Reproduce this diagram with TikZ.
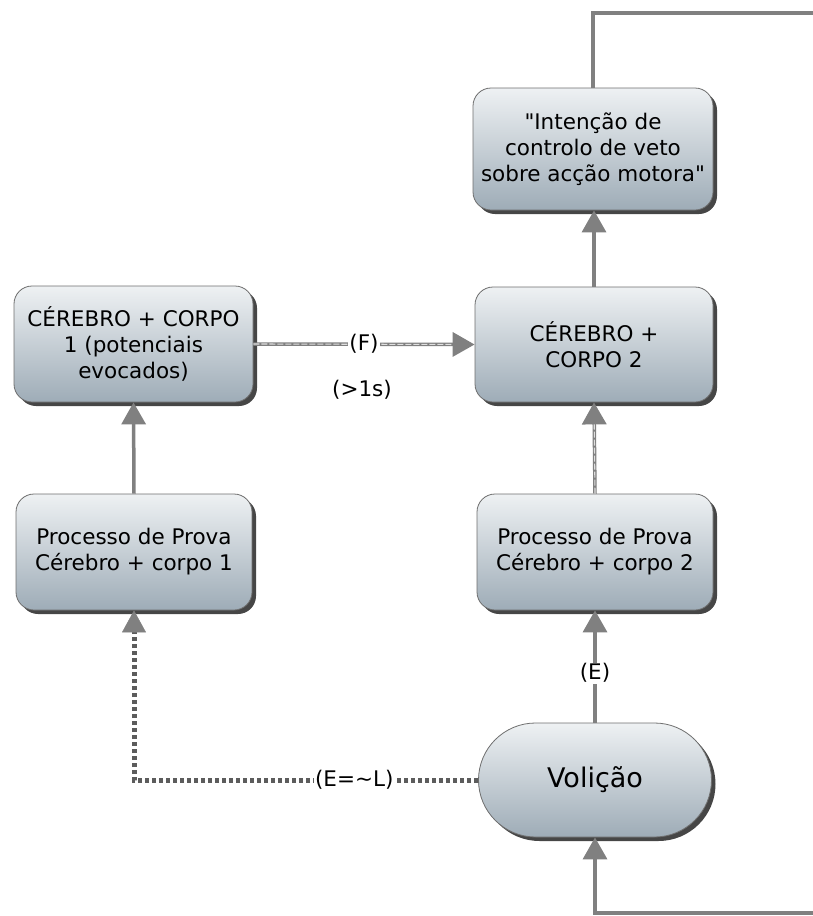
\documentclass[tikz,border=0pt]{standalone}
\usepackage{fontspec}
\setmainfont{DejaVu Sans}
\usetikzlibrary{arrows.meta,shadows}
\definecolor{boxtop}{HTML}{EEF1F3}
\definecolor{boxbot}{HTML}{9EACB7}
\definecolor{boxline}{HTML}{6E6E6E}
\definecolor{conn}{HTML}{808080}
\definecolor{dotc}{HTML}{5C5C5C}
\begin{document}
\begin{tikzpicture}[x=1pt,y=-1pt,
  box/.style={rectangle, rounded corners=18pt, draw=boxline, line width=0.8pt,
    top color=boxtop, bottom color=boxbot, minimum width=238pt, minimum height=116pt,
    align=center, inner sep=1pt, font=\fontsize{21.5}{26}\selectfont,
    drop shadow={shadow xshift=4pt, shadow yshift=-4pt, fill=black!85, opacity=0.85}},
  arr/.style={draw=conn, line width=3.5pt, -{Triangle[width=24pt,length=22pt,color=conn]}},
  innerdash/.style={postaction={draw=white!75!conn, line width=1.1pt, dash pattern=on 6pt off 2pt, -, shorten >=22pt}},
  dotline/.style={draw=dotc, line width=5pt, dash pattern=on 4.5pt off 2.5pt, -{Triangle[width=24pt,length=22pt,color=conn,line width=0.5pt]}},
  lbl/.style={fill=white, inner sep=1pt, font=\fontsize{21.5}{24}\selectfont}
]
\useasboundingbox (0,0) rectangle (813,916);
\clip (0,0) rectangle (813,916);

\node[box, minimum width=240pt, minimum height=122pt] (int) at (593,149) {\textquotedbl Intenção de\\controlo de veto\\sobre acção motora\textquotedbl};
\node[box, minimum width=239pt] (c1) at (133.5,344) {CÉREBRO + CORPO\\1 (potenciais\\evocados)};
\node[box, minimum height=115pt] (c2) at (594,344.5) {CÉREBRO +\\CORPO 2};
\node[box, minimum width=236pt] (p1) at (134,552) {Processo de Prova\\Cérebro + corpo 1};
\node[box, minimum width=236pt] (p2) at (595,552) {Processo de Prova\\Cérebro + corpo 2};
\node[box, rounded corners=57pt, minimum width=233pt, minimum height=114pt,
  font=\fontsize{27}{30}\selectfont] (vol) at (595,780) {Volição};

\coordinate (tr) at (840,13);
\coordinate (br) at (840,913);

% feedback loop
\draw[arr] (int.north) |- (tr) -- (br) -| (vol.south);

% vertical connectors
\draw[arr] (p1.north) -- (c1.south);
\draw[arr] (c2.north) -- (c2.north |- int.south);
\draw[arr, innerdash] (p2.north) -- (c2.south);
\draw[arr] (vol.north) -- (p2.south) node[lbl, pos=0.44] (le) {(E)};

% F connector
\draw[arr, innerdash] (c1.east) -- (c2.west) node[lbl, midway] (lf) {(F)};
\node[font=\fontsize{21.5}{24}\selectfont] (ls) at (362,390) {(>1s)};

% dotted connector
\draw[dotline] (vol.west) -| (p1.south) node[lbl, pos=0.18] (ll) {(E=\textasciitilde L)};
\end{tikzpicture}
\end{document}
